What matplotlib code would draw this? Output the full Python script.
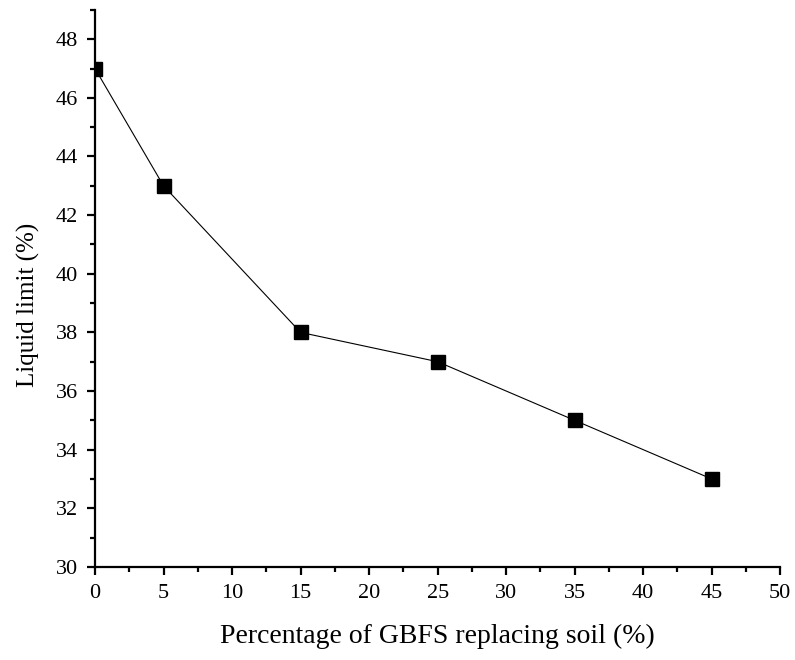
import matplotlib.pyplot as plt
from matplotlib.ticker import MultipleLocator

gbfs = [0, 5, 15, 25, 35, 45]
liquid_limit = [47, 43, 38, 37, 35, 33]

plt.rcParams['font.family'] = ['Liberation Serif', 'DejaVu Serif']

fig = plt.figure(figsize=(7.95, 6.6), dpi=100)
ax = fig.add_axes([0.1195, 0.141, 0.862, 0.844])

ax.plot(gbfs, liquid_limit, color='black', linewidth=0.8,
        marker='s', markersize=9.5, markerfacecolor='black')

ax.set_xlim(0, 50)
ax.set_ylim(30, 49)
ax.xaxis.set_major_locator(MultipleLocator(5))
ax.xaxis.set_minor_locator(MultipleLocator(2.5))
ax.yaxis.set_major_locator(MultipleLocator(2))
ax.yaxis.set_minor_locator(MultipleLocator(1))

for side in ['top', 'right']:
    ax.spines[side].set_visible(False)
for side in ['left', 'bottom']:
    ax.spines[side].set_linewidth(1.6)

ax.tick_params(which='major', direction='out', length=6, width=1.6, labelsize=16, pad=6)
ax.tick_params(which='minor', direction='out', length=3.5, width=1.6)

ax.set_xlabel('Percentage of GBFS replacing soil (%)', fontsize=20, labelpad=15)
ax.set_ylabel('Liquid limit (%)', fontsize=18)
ax.yaxis.set_label_coords(-0.08, 0.47)

fig.savefig('out.png', dpi=100)
